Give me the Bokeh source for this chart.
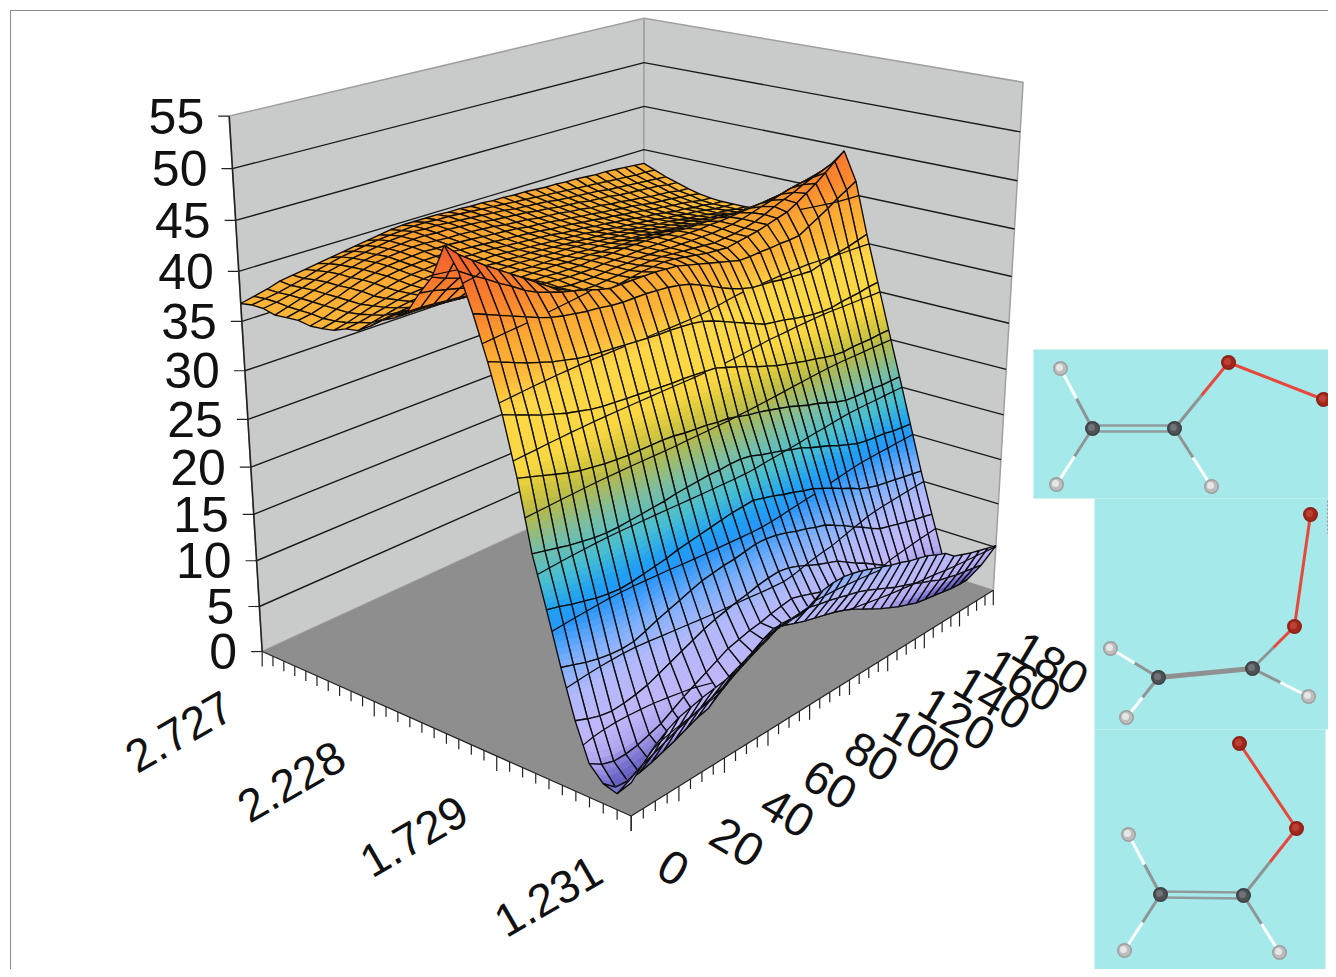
import math
import numpy as np
from bokeh.plotting import figure
from bokeh.models import Range1d, ColumnDataSource
from bokeh.core.properties import value
from bokeh.embed import file_html
from bokeh.resources import INLINE

z_ticks = [0, 5, 10, 15, 20, 25, 30, 35, 40, 45, 50, 55]
bond_labels = ["1.231", "1.729", "2.228", "2.727"]
angle_labels = ["0", "20", "40", "60", "80", "100", "120", "140", "160", "180"]

z00 = [3.3,4.5,5.6,6.4,7.0,7.3,7.6,7.8,8.0,8.5,9.0,9.3,9.8,10.5,10.4,10.3,10.6,11.5,11.7,11.7,11.5,11.2,10.8,10.4,10.0,9.7,9.3,9.0,8.7,8.2,7.8,6.9,6.5,6.1,5.8,5.5,5.2]
z01 = [1.6,2.2,2.9,3.4,3.9,4.4,4.8,5.2,5.6,6.0,6.6,7.2,7.8,8.4,8.8,9.0,9.1,9.2,8.9,8.7,8.4,8.1,7.8,7.4,6.9,6.4,5.9,5.5,5.1,4.6,4.2,3.7,3.4,3.1,2.9,2.7,2.5]
z02 = [2.0,0.9,0.8,0.9,1.2,1.6,2.0,2.5,3.0,3.3,4.2,5.0,5.8,6.5,7.2,7.7,7.4,7.0,6.6,6.3,6.0,5.7,5.3,4.8,4.2,3.6,3.0,2.5,2.0,1.6,1.2,1.0,0.8,0.6,0.4,0.3,0.3]
z03 = [3.4,2.6,2.2,2.2,2.4,2.8,3.2,3.9,4.6,5.2,5.8,6.4,7.0,7.3,7.6,7.8,8.1,8.3,8.5,8.2,7.8,7.4,7.0,6.5,6.0,5.3,4.6,4.0,3.3,2.6,2.0,1.8,1.6,1.4,1.2,1.0,0.8]
z04 = [7.1,6.6,6.2,6.0,6.1,6.3,6.6,7.1,7.6,8.1,8.6,9.1,9.5,9.8,10.1,10.3,10.6,10.8,10.9,10.7,10.3,9.8,9.3,8.9,8.5,7.8,7.1,6.5,5.8,5.1,4.4,4.0,3.6,3.2,2.8,2.4,2.0]
z05 = [11.8,11.4,11.0,10.7,10.5,10.4,10.5,10.9,11.4,11.8,12.2,12.6,13.0,13.2,13.4,13.5,13.7,13.9,13.9,13.7,13.4,13.0,12.7,12.3,12.0,11.4,10.8,10.1,9.5,8.8,8.2,7.9,7.6,7.3,7.0,6.8,6.5]
z06 = [16.9,16.6,16.2,15.9,15.6,15.4,15.3,15.4,15.6,15.8,16.0,16.3,16.5,16.7,16.9,17.1,17.3,17.4,17.5,17.2,16.9,16.5,16.2,15.8,15.5,15.0,14.5,13.9,13.4,12.8,12.4,12.1,11.9,11.7,11.5,11.3,11.1]
z07 = [21.8,21.5,21.2,20.9,20.7,20.5,20.4,20.4,20.5,20.6,20.7,20.8,21.0,21.1,21.2,21.3,21.3,21.4,21.4,21.2,20.8,20.5,20.2,19.8,19.5,19.0,18.6,18.2,17.7,17.3,16.9,16.7,16.6,16.5,16.3,16.2,16.1]
z08 = [28.5,28.1,27.7,27.3,26.9,26.6,26.4,26.2,26.1,26.0,26.0,26.0,26.0,25.9,25.7,25.6,25.5,25.3,25.2,24.9,24.6,24.4,24.1,23.8,23.5,23.1,22.7,22.4,22.0,21.6,21.3,21.2,21.2,21.2,21.1,21.1,21.1]
z09 = [34.0,33.5,33.0,32.5,32.1,31.7,31.4,31.1,30.9,30.8,30.7,30.6,30.5,30.4,30.3,30.3,30.2,30.1,30.0,29.6,29.2,28.8,28.3,27.9,27.5,27.2,26.9,26.6,26.4,26.1,25.9,25.8,25.9,25.9,25.9,26.0,26.0]
z10 = [38.5,38.0,37.5,37.0,36.6,36.2,35.9,35.6,35.4,35.3,35.2,35.1,35.0,34.9,34.8,34.8,34.7,34.6,34.4,34.0,33.5,33.0,32.5,32.0,31.5,31.3,31.1,30.8,30.6,30.4,30.3,30.3,30.5,30.6,30.7,30.9,31.0]
z11 = [42.5,42.0,41.5,41.0,40.5,40.0,39.6,39.3,39.1,38.9,38.8,38.6,38.5,38.5,38.5,38.4,38.3,38.1,37.8,37.3,36.8,36.2,35.7,35.3,35.0,34.9,34.8,34.6,34.5,34.4,34.3,34.6,34.9,35.2,35.4,35.7,36.0]
z12 = [46.0,45.2,44.5,43.7,43.0,42.2,41.6,41.2,40.8,40.5,40.2,39.8,39.5,39.5,39.5,39.5,39.5,39.4,39.3,39.0,38.7,38.4,38.1,37.8,37.5,37.5,37.6,37.6,37.7,37.7,37.8,38.4,39.0,39.6,40.3,40.9,41.5]
z13 = [48.0,46.8,45.9,45.0,44.2,43.4,42.6,41.8,41.0,40.3,39.6,39.0,38.4,38.6,38.8,39.0,39.2,39.3,39.4,39.3,39.1,38.9,38.7,38.6,38.5,38.7,38.9,39.1,39.4,39.7,40.0,40.6,41.3,42.0,42.8,43.7,44.5]
z14 = [44.8,44.3,43.9,43.5,43.0,42.4,41.8,41.2,40.6,40.0,39.5,39.0,38.7,38.7,38.8,38.9,39.0,39.1,39.2,39.2,39.1,39.0,38.9,38.8,38.7,38.8,38.9,39.1,39.4,39.8,40.3,40.7,41.1,41.6,42.0,42.4,42.8]
z15 = [43.0,42.8,42.5,42.2,41.8,41.4,40.9,40.4,40.0,39.6,39.3,39.0,38.8,38.8,38.8,38.9,39.0,39.0,39.1,39.1,39.1,39.0,39.0,39.0,39.0,39.0,39.1,39.2,39.4,39.7,40.0,40.3,40.6,40.9,41.1,41.3,41.5]
z16 = [40.9,40.9,40.8,40.7,40.6,40.4,40.2,40.0,39.7,39.5,39.3,39.1,39.0,38.9,38.9,38.9,39.0,39.0,39.0,39.1,39.1,39.1,39.1,39.1,39.1,39.1,39.2,39.2,39.3,39.4,39.5,39.6,39.7,39.8,39.9,39.9,39.9]
z17 = [40.0,40.0,40.0,39.9,39.8,39.7,39.6,39.5,39.4,39.2,39.1,39.0,39.0,38.9,38.9,38.9,39.0,39.0,39.0,39.1,39.1,39.1,39.1,39.0,39.0,38.9,38.9,38.9,38.9,38.8,38.8,38.8,38.7,38.7,38.7,38.6,38.6]
z18 = [39.4,39.5,39.5,39.5,39.4,39.4,39.3,39.3,39.2,39.1,39.0,39.0,39.0,39.0,39.0,38.9,38.9,38.9,38.8,38.8,38.8,38.8,38.7,38.7,38.6,38.5,38.4,38.3,38.2,38.1,38.0,37.9,37.8,37.7,37.7,37.6,37.5]
z19 = [38.5,38.7,38.9,39.0,39.0,39.1,39.1,39.1,39.1,39.1,39.0,39.0,39.0,38.9,38.9,38.9,38.8,38.8,38.7,38.7,38.6,38.5,38.4,38.3,38.2,38.0,37.9,37.8,37.6,37.5,37.3,37.2,37.0,36.9,36.7,36.6,36.4]
z20 = [37.7,38.0,38.3,38.6,38.8,38.9,39.0,39.1,39.1,39.1,39.1,39.0,39.0,39.0,38.9,38.9,38.8,38.8,38.7,38.6,38.5,38.4,38.3,38.2,38.0,37.9,37.7,37.6,37.4,37.3,37.1,36.9,36.8,36.6,36.4,36.3,36.1]
z21 = [37.5,37.7,38.0,38.3,38.6,38.8,38.9,39.1,39.1,39.2,39.1,39.1,39.0,39.0,38.9,38.9,38.8,38.7,38.6,38.5,38.4,38.3,38.2,38.0,37.9,37.7,37.6,37.4,37.3,37.1,36.9,36.8,36.6,36.4,36.3,36.1,36.0]
z22 = [37.0,37.3,37.7,38.1,38.4,38.7,38.9,39.1,39.2,39.2,39.2,39.2,39.1,39.1,39.0,38.9,38.8,38.7,38.6,38.5,38.4,38.3,38.1,38.0,37.8,37.7,37.5,37.4,37.2,37.0,36.9,36.7,36.6,36.4,36.2,36.1,36.0]
z23 = [36.8,37.1,37.5,37.9,38.3,38.7,39.0,39.2,39.3,39.4,39.4,39.3,39.2,39.2,39.1,39.0,38.9,38.8,38.7,38.6,38.4,38.3,38.2,38.0,37.9,37.7,37.6,37.4,37.2,37.1,36.9,36.7,36.6,36.4,36.3,36.1,36.0]
z24 = [36.7,37.0,37.5,37.9,38.4,38.8,39.1,39.3,39.4,39.5,39.5,39.5,39.4,39.3,39.2,39.1,39.0,38.9,38.8,38.7,38.5,38.4,38.3,38.1,38.0,37.8,37.7,37.5,37.4,37.2,37.0,36.9,36.7,36.6,36.4,36.2,36.1]
z25 = [36.9,37.1,37.5,37.9,38.4,38.8,39.1,39.4,39.5,39.6,39.7,39.6,39.6,39.5,39.4,39.3,39.2,39.1,39.0,38.8,38.7,38.6,38.4,38.3,38.1,38.0,37.8,37.7,37.5,37.4,37.2,37.0,36.9,36.8,36.6,36.5,36.3]
z26 = [36.8,37.1,37.5,37.9,38.3,38.7,39.1,39.4,39.6,39.7,39.8,39.8,39.7,39.6,39.6,39.5,39.4,39.3,39.1,39.0,38.9,38.7,38.6,38.5,38.3,38.2,38.0,37.9,37.7,37.6,37.4,37.3,37.1,37.0,36.9,36.7,36.6]
z27 = [36.7,37.1,37.5,37.9,38.3,38.7,39.0,39.3,39.5,39.7,39.8,39.9,39.9,39.8,39.8,39.7,39.6,39.5,39.3,39.2,39.1,39.0,38.8,38.7,38.5,38.4,38.3,38.1,38.0,37.9,37.7,37.6,37.5,37.4,37.3,37.1,37.0]
z28 = [37.0,37.2,37.5,37.8,38.2,38.6,38.9,39.2,39.4,39.6,39.8,39.9,40.0,39.9,39.9,39.8,39.7,39.6,39.5,39.4,39.3,39.1,39.0,38.9,38.8,38.6,38.5,38.4,38.3,38.2,38.0,37.9,37.8,37.7,37.6,37.5,37.4]
z29 = [37.0,37.2,37.4,37.7,38.0,38.4,38.7,39.0,39.2,39.4,39.6,39.7,39.8,39.9,39.9,39.8,39.8,39.7,39.6,39.5,39.4,39.3,39.2,39.1,39.0,38.9,38.8,38.7,38.6,38.5,38.4,38.3,38.2,38.1,38.0,38.0,37.9]
z30 = [36.8,37.1,37.4,37.8,38.0,38.2,38.4,38.6,38.8,39.0,39.2,39.4,39.6,39.7,39.7,39.7,39.7,39.6,39.6,39.5,39.5,39.4,39.4,39.3,39.3,39.2,39.1,39.1,39.0,39.0,38.9,38.8,38.8,38.7,38.6,38.5,38.4]

rows = [z00,z01,z02,z03,z04,z05,z06,z07,z08,z09,z10,z11,z12,z13,z14,z15,z16,z17,z18,z19,z20,z21,z22,z23,z24,z25,z26,z27,z28,z29,z30]
bad = [(k, len(r)) for k, r in enumerate(rows) if len(r) != 37]
if bad:
    raise SystemExit(f"bad rows {bad}")
Z = np.array(rows)
NU, NV = Z.shape

# camera: chart-box corners (u 0-1 front to back, v 0-1, z 0-1) on the page
corners_world = [(0,0,0),(1,0,0),(0,1,0),(1,1,0),(1,0,1),(1,1,1),(0,1,1)]
corners_page = [(630,815),(262,652),(993,590),(643,475),(229,115),(643,18),(1023,82)]
A = []
for (X,Y,W),(px,py) in zip(corners_world, corners_page):
    A.append([X,Y,W,1,0,0,0,0,-px*X,-px*Y,-px*W,-px])
    A.append([0,0,0,0,X,Y,W,1,-py*X,-py*Y,-py*W,-py])
P = np.linalg.svd(np.array(A, dtype=float))[2][-1].reshape(3,4)

def proj(u, v, z):
    h = P @ np.array([u, v, z/55.0, 1.0])
    return h[0]/h[2], h[1]/h[2]

stops = [(0,(86,80,170)),(1.5,(110,105,200)),(3,(175,165,240)),(5,(192,182,250)),(9,(178,185,252)),
         (12,(125,175,255)),(15,(40,150,250)),(16.5,(30,160,245)),(19,(70,190,210)),(22,(120,190,165)),
         (25,(180,185,75)),(27,(215,200,60)),(29,(250,215,65)),(34,(255,215,70)),(37,(255,180,55)),
         (39,(253,170,50)),(42,(252,135,45)),(46,(245,105,45)),(48,(240,90,45)),(55,(230,70,40))]

def color(z):
    for (a,ca),(b,cb) in zip(stops, stops[1:]):
        if z <= b:
            t = max(0.0,(z-a)/(b-a))
            c = [int(round(ca[k]+(cb[k]-ca[k])*t)) for k in range(3)]
            return "#%02x%02x%02x" % tuple(c)
    return "#e64628"

W_PX, H_PX = 1328, 969
p = figure(width=W_PX, height=H_PX, x_range=Range1d(0,W_PX), y_range=Range1d(H_PX,0),
           toolbar_location=None, output_backend="svg", x_axis_location=None, y_axis_location=None,
           min_border=0, background_fill_color="white", border_fill_color="white")
p.outline_line_color = None
p.grid.visible = False

# frame
p.line([10,W_PX],[10,10],line_color="#8a8a8a",line_width=1)
p.line([10,10],[10,H_PX],line_color="#8a8a8a",line_width=1)

def quad(a,b,c,d):
    pts=[proj(*a),proj(*b),proj(*c),proj(*d)]
    return [q[0] for q in pts],[q[1] for q in pts]

wx1,wy1 = quad((1,0,0),(1,1,0),(1,1,55),(1,0,55))
wx2,wy2 = quad((1,1,0),(0,1,0),(0,1,55),(1,1,55))
fx,fy = quad((0,0,0),(1,0,0),(1,1,0),(0,1,0))
p.patches([wx1,wx2],[wy1,wy2],fill_color="#c9cbcb",line_color="#a0a0a0",line_width=1.5)
p.patch(fx,fy,fill_color="#8e8e8e",line_color=None)

for zt in z_ticks[1:-1]:
    a=proj(1,0,zt);b=proj(1,1,zt);c=proj(0,1,zt)
    p.line([a[0],b[0],c[0]],[a[1],b[1],c[1]],line_color="#1a1a1a",line_width=1.4)
a=proj(1,0,0);b=proj(1,0,55)
p.line([a[0],b[0]],[a[1],b[1]],line_color="#222222",line_width=1.6)
for zt in z_ticks:
    a=proj(1,0,zt)
    p.line([a[0]-11,a[0]],[a[1],a[1]],line_color="#222222",line_width=1.2)

# floor edges and ticks
a=proj(1,0,0);b=proj(0,0,0);c=proj(0,1,0)
p.line([a[0],b[0],c[0]],[a[1],b[1],c[1]],line_color="#222222",line_width=1.2)
for i in range(NU):
    q=proj(i/(NU-1),0,0)
    ln=15 if i%10==0 else 10
    p.line([q[0],q[0]],[q[1],q[1]+ln],line_color="#222222",line_width=1.2)
for j in range(NV):
    q=proj(0,j/(NV-1),0)
    ln=15 if j%4==0 else 10
    p.line([q[0],q[0]],[q[1],q[1]+ln],line_color="#222222",line_width=1.2)

# surface, painted from the far corner to the near one
xs,ys,fc,fa,lc,lw=[],[],[],[],[],[]
levels=[k*5 for k in range(1,11)]
def add(x,y,f,a,l,w):
    xs.append(x);ys.append(y);fc.append(f);fa.append(a);lc.append(l);lw.append(w)

for i in range(NU-2,-1,-1):
    for j in range(NV-2,-1,-1):
        u0,u1=i/(NU-1),(i+1)/(NU-1)
        v0,v1=j/(NV-1),(j+1)/(NV-1)
        z00_,z10_,z11_,z01_=Z[i,j],Z[i+1,j],Z[i+1,j+1],Z[i,j+1]
        cs=[(u0,v0,z00_),(u1,v0,z10_),(u1,v1,z11_),(u0,v1,z01_)]
        pj=[proj(*c_) for c_ in cs]
        span=max(q[1] for q in pj)-min(q[1] for q in pj)
        n=max(1,min(10,int(math.ceil(span/7))))
        for s in range(n):
            t0,t1=s/n,(s+1)/n
            def pt(t,side):
                if side==0:
                    return (u0+(u1-u0)*t,v0,z00_+(z10_-z00_)*t)
                return (u0+(u1-u0)*t,v1,z01_+(z11_-z01_)*t)
            q=[pt(t0,0),pt(t1,0),pt(t1,1),pt(t0,1)]
            zm=sum(c_[2] for c_ in q)/4
            pq=[proj(*c_) for c_ in q]
            col=color(zm)
            add([a_[0] for a_ in pq],[a_[1] for a_ in pq],col,1.0,col,0.7)
        add([q[0] for q in pj],[q[1] for q in pj],"#000000",0.0,"#0a0a0a",1.35)
        for lev in levels:
            cross=[]
            for k in range(4):
                a_,b_=cs[k],cs[(k+1)%4]
                if (a_[2]-lev)*(b_[2]-lev)<0:
                    t=(lev-a_[2])/(b_[2]-a_[2])
                    cross.append(proj(a_[0]+(b_[0]-a_[0])*t,a_[1]+(b_[1]-a_[1])*t,lev))
            for m in range(0,len(cross)-1,2):
                add([cross[m][0],cross[m+1][0]],[cross[m][1],cross[m+1][1]],"#000000",0.0,"#0a0a0a",1.2)

src=ColumnDataSource(dict(xs=xs,ys=ys,fc=fc,fa=fa,lc=lc,lw=lw))
p.patches("xs","ys",source=src,fill_color="fc",fill_alpha="fa",line_color="lc",line_width="lw")

font=value("Liberation Sans")
# z labels
zx=[proj(1,0,t)[0]-25 for t in z_ticks]
zy=[proj(1,0,t)[1] for t in z_ticks]
p.text(zx,zy,text=[str(t) for t in z_ticks],text_font=font,text_font_size="50px",text_align="right",
       text_baseline="middle",text_color="#111111")

# bond-length labels
bond_pos=[0,10,20,30]
bx=[proj(i/(NU-1),0,0)[0]-83 for i in bond_pos]
by=[proj(i/(NU-1),0,0)[1]+80 for i in bond_pos]
p.text(bx,by,text=bond_labels,text_font=font,text_font_size="46px",text_align="center",text_baseline="middle",
       angle=30,angle_units="deg",text_color="#111111")

# torsion-angle labels
ang_pos=[0,4,8,12,16,20,24,28,32,36]
off_x=[42,58,63,62,62,72,69,68,63,57]
off_y=[52,56,55,54,52,61,63,65,69,73]
ax=[proj(0,j/(NV-1),0)[0]+d for j,d in zip(ang_pos,off_x)]
ay=[proj(0,j/(NV-1),0)[1]+d for j,d in zip(ang_pos,off_y)]
p.text(ax,ay,text=angle_labels,text_font=font,text_font_size="47px",text_align="center",text_baseline="middle",
       angle=-31,angle_units="deg",text_color="#111111")

# molecule panels
teal="#a6e9ea"
p.quad(left=[1033,1094,1094],right=[W_PX,1329,1325],top=[349,498,729],bottom=[498,729,H_PX],fill_color=teal,line_color=None)
p.line([1327.5,1327.5],[500,533],line_color="#a84040",line_width=1,line_dash="2 2")

mol1=dict(C=[(1092,428),(1174,428)],H=[(1060,368),(1056,484),(1211,486)],O=[(1228,362),(1323,399)])
mol2=dict(C=[(1158,677),(1252,668)],H=[(1110,648),(1126,717),(1308,696)],O=[(1294,626),(1310,514)])
mol3=dict(C=[(1160,894),(1243,895)],H=[(1128,834),(1124,950),(1279,952)],O=[(1296,828),(1239,743)])

def half(a,b,c1,c2,w):
    m=((a[0]+b[0])/2,(a[1]+b[1])/2)
    p.line([a[0],m[0]],[a[1],m[1]],line_color=c1,line_width=w)
    p.line([m[0],b[0]],[m[1],b[1]],line_color=c2,line_width=w)

def molecule(m,thick=False):
    C,H,O=m["C"],m["H"],m["O"]
    if thick:
        p.line([C[0][0],C[1][0]],[C[0][1],C[1][1]],line_color="#909090",line_width=5)
    else:
        for d in (-3,3):
            p.line([C[0][0],C[1][0]],[C[0][1]+d,C[1][1]+d],line_color="#8f9a9b",line_width=2.6)
    half(C[0],H[0],"#8f9494","#ffffff",3)
    half(C[0],H[1],"#8f9494","#ffffff",3)
    half(C[1],H[2],"#8f9494","#ffffff",3)
    half(C[1],O[0],"#8f9494","#e8483c",3)
    p.line([O[0][0],O[1][0]],[O[0][1],O[1][1]],line_color="#e8483c",line_width=3)
    for pts,c0,c1,c2,sz in ((H,"#9e9e9e","#bdbdbd","#e6e6e6",15),(C,"#3c3f42","#4f5255","#70737a",15),(O,"#8c1f16","#a3281c","#bd4034",15)):
        x=[q[0] for q in pts];y=[q[1] for q in pts]
        p.scatter(x,y,size=sz,fill_color=c0,line_color=None)
        p.scatter(x,y,size=sz-3,fill_color=c1,line_color=None)
        p.scatter([a_-1 for a_ in x],[a_-1 for a_ in y],size=sz-8,fill_color=c2,line_color=None)

molecule(mol1)
molecule(mol2,thick=True)
molecule(mol3)

open("out.html","w").write(file_html(p,INLINE))
